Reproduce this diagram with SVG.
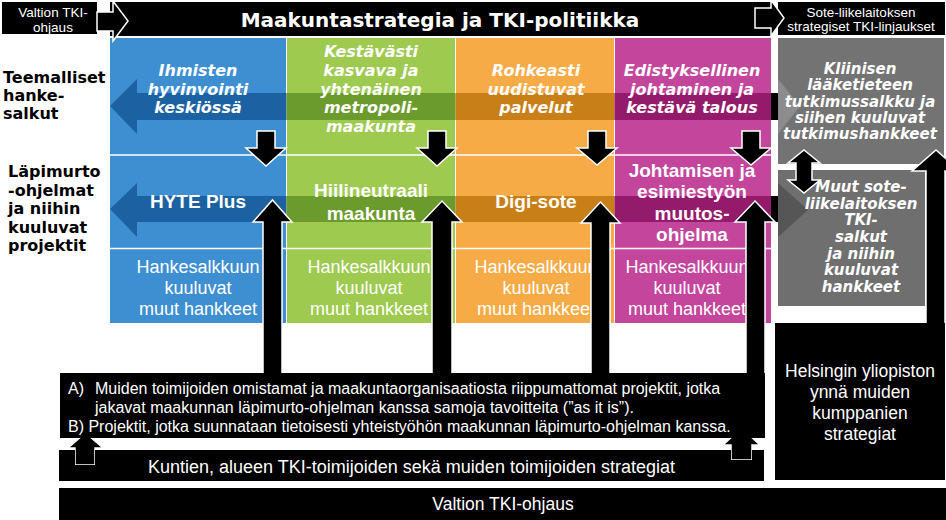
<svg xmlns="http://www.w3.org/2000/svg" width="946" height="520" viewBox="0 0 946 520">
<style>
.v { font-family: "DejaVu Sans", Verdana, sans-serif; font-weight: bold; }
.vi { font-family: "DejaVu Sans", Verdana, sans-serif; font-weight: bold; font-style: italic; fill: #fff; text-anchor: middle; }
.a { font-family: "Liberation Sans", Arial, sans-serif; fill: #fff; }
.ab { font-family: "Liberation Sans", Arial, sans-serif; font-weight: bold; fill: #fff; text-anchor: middle; font-size: 19px; }
.mid { text-anchor: middle; }
.arw { fill: #000; stroke: #fff; stroke-width: 1.5; stroke-linejoin: miter; }
.blk { fill: #000; }
.sep { stroke: #fff; stroke-width: 1.5; }
</style>
<rect width="946" height="520" fill="#fff"/>

<g id="columns">
  <rect x="110" y="38" width="176" height="285" fill="#3d8fd1"/>
  <rect x="287" y="38" width="168" height="285" fill="#9dca4f"/>
  <rect x="456" y="38" width="158" height="285" fill="#f6ab46"/>
  <rect x="615" y="38" width="156" height="285" fill="#c4469c"/>
  <rect x="778" y="38" width="166" height="126" fill="#737373"/>
  <rect x="778" y="170" width="147" height="136" fill="#6f6f6f"/>
</g>

<g id="bands">
  <polygon points="110,106 137,79 137,93 286.5,93 286.5,120 137,120 137,134" fill="#1c62a2"/>
  <rect x="286.5" y="93" width="169" height="27" fill="#6b9b2c"/>
  <rect x="455.5" y="93" width="159" height="27" fill="#c97f18"/>
  <rect x="614.5" y="93" width="156.5" height="27" fill="#941a6b"/>
  <rect x="771" y="93" width="7" height="27" fill="#000"/>
  <polygon points="778,79 800,106 778,134" fill="#8c8c8c"/>
  <polygon points="110,209 137,183 137,196 286.5,196 286.5,222 137,222 137,237" fill="#1c62a2"/>
  <rect x="286.5" y="196" width="169" height="26" fill="#6b9b2c"/>
  <rect x="455.5" y="196" width="159" height="26" fill="#c97f18"/>
  <rect x="614.5" y="196" width="156.5" height="26" fill="#941a6b"/>
  <rect x="771" y="196" width="7" height="26" fill="#000"/>
  <polygon points="778,183 808,210 778,237" fill="#565656"/>
  <line class="sep" x1="110" y1="155" x2="771" y2="155"/>
  <line class="sep" x1="110" y1="248.5" x2="771" y2="248.5"/>
</g>

<g id="top-bar">
  <rect x="110" y="2" width="661" height="34" class="blk"/>
  <text x="440" y="27" class="v mid" font-size="20" fill="#fff">Maakuntastrategia ja TKI-politiikka</text>
</g>
<g id="valtion-top">
  <rect x="2" y="2" width="95" height="32" class="blk"/>
  <text class="a mid" font-size="13.5"><tspan x="53" y="17">Valtion TKI-</tspan><tspan x="53" y="31.5">ohjaus</tspan></text>
</g>
<g id="sote-top">
  <rect x="778" y="2" width="167" height="33" class="blk"/>
  <text class="a mid" font-size="13.5"><tspan x="861" y="16.5">Sote-liikelaitoksen</tspan><tspan x="861" y="31">strategiset TKI-linjaukset</tspan></text>
</g>

<g id="row-labels">
  <text class="v" font-size="16" fill="#000"><tspan x="3" y="83">Teemalliset</tspan><tspan x="3" y="101">hanke-</tspan><tspan x="3" y="119">salkut</tspan></text>
  <text class="v" font-size="16" fill="#000"><tspan x="8" y="177">Läpimurto</tspan><tspan x="8" y="195.5">-ohjelmat</tspan><tspan x="8" y="214">ja niihin</tspan><tspan x="8" y="232.5">kuuluvat</tspan><tspan x="8" y="251">projektit</tspan></text>
</g>

<g id="theme-blue">
  <text class="vi" font-size="16"><tspan x="198" y="76">Ihmisten</tspan><tspan x="198" y="94.5">hyvinvointi</tspan><tspan x="198" y="113">keskiössä</tspan></text>
</g>
<g id="theme-green">
  <text class="vi" font-size="16"><tspan x="371" y="57">Kestävästi</tspan><tspan x="371" y="76">kasvava ja</tspan><tspan x="371" y="94.5">yhtenäinen</tspan><tspan x="371" y="113">metropoli-</tspan><tspan x="371" y="132">maakunta</tspan></text>
</g>
<g id="theme-orange">
  <text class="vi" font-size="16"><tspan x="536" y="76">Rohkeasti</tspan><tspan x="536" y="94.5">uudistuvat</tspan><tspan x="536" y="113">palvelut</tspan></text>
</g>
<g id="theme-magenta">
  <text class="vi" font-size="16"><tspan x="692" y="76">Edistyksellinen</tspan><tspan x="692" y="94.5">johtaminen ja</tspan><tspan x="692" y="113">kestävä talous</tspan></text>
</g>
<g id="theme-clinical">
  <text class="vi" font-size="15"><tspan x="860" y="74">Kliinisen</tspan><tspan x="860" y="90.3">lääketieteen</tspan><tspan x="860" y="106.6">tutkimussalkku ja</tspan><tspan x="860" y="123">siihen kuuluvat</tspan><tspan x="860" y="139.3">tutkimushankkeet</tspan></text>
</g>
<g id="other-sote">
  <text class="vi" font-size="15"><tspan x="861" y="192">Muut sote-</tspan><tspan x="861" y="208.7">liikelaitoksen</tspan><tspan x="861" y="225.3">TKI-</tspan><tspan x="861" y="242">salkut</tspan><tspan x="861" y="258.7">ja niihin</tspan><tspan x="861" y="275.3">kuuluvat</tspan><tspan x="861" y="292">hankkeet</tspan></text>
</g>

<g id="prog-hyte"><text class="ab" x="198" y="208">HYTE Plus</text></g>
<g id="prog-hiili"><text class="ab"><tspan x="371" y="197">Hiilineutraali</tspan><tspan x="371" y="220">maakunta</tspan></text></g>
<g id="prog-digi"><text class="ab" x="536" y="208">Digi-sote</text></g>
<g id="prog-johto"><text class="ab"><tspan x="692" y="177">Johtamisen ja</tspan><tspan x="692" y="198.3">esimiestyön</tspan><tspan x="692" y="219.6">muutos-</tspan><tspan x="692" y="241">ohjelma</tspan></text></g>

<g id="other-projects">
  <text class="a mid" font-size="18"><tspan x="198" y="273">Hankesalkkuun</tspan><tspan x="198" y="294">kuuluvat</tspan><tspan x="198" y="315">muut hankkeet</tspan></text>
  <text class="a mid" font-size="18"><tspan x="369" y="273">Hankesalkkuun</tspan><tspan x="369" y="294">kuuluvat</tspan><tspan x="369" y="315">muut hankkeet</tspan></text>
  <text class="a mid" font-size="18"><tspan x="536" y="273">Hankesalkkuun</tspan><tspan x="536" y="294">kuuluvat</tspan><tspan x="536" y="315">muut hankkeet</tspan></text>
  <text class="a mid" font-size="18"><tspan x="687" y="273">Hankesalkkuun</tspan><tspan x="687" y="294">kuuluvat</tspan><tspan x="687" y="315">muut hankkeet</tspan></text>
</g>

<g id="connectors">
  <path class="arw" d="M97,12 L113,12 L113,1 L128,21 L113,41 L113,31 L97,31 Z"/>
  <path class="arw" d="M755,8 L771,8 L771,0 L784,18 L771,36 L771,28 L755,28 Z"/>
  <path class="arw" d="M266,166 L246,148 L257,148 L257,131 L275,131 L275,148 L286,148 Z"/>
  <path class="arw" d="M437,166 L417,148 L428,148 L428,131 L446,131 L446,148 L457,148 Z"/>
  <path class="arw" d="M597,165 L577,148 L588,148 L588,131 L606,131 L606,148 L617,148 Z"/>
  <path class="arw" d="M751,165 L731,148 L742,148 L742,131 L760,131 L760,148 L771,148 Z"/>
  <path class="arw" d="M272.5,200 L292,222 L282,222 L282,380 L263,380 L263,222 L253,222 Z"/>
  <path class="arw" d="M442,201 L462,222 L452,222 L452,380 L432,380 L432,222 L422,222 Z"/>
  <path class="arw" d="M600.5,202 L620,223 L610,223 L610,380 L591,380 L591,223 L581,223 Z"/>
  <path class="arw" d="M755,201 L775,222 L765,222 L765,380 L746,380 L746,222 L735,222 Z"/>
  <path class="arw" d="M804,150 L820,163 L812,163 L812,180 L820,180 L804,193 L788,180 L796,180 L796,163 L788,163 Z"/>
  <path class="arw" d="M936,150 L960,171 L945,171 L945,330 L926,330 L926,171 L912,171 Z"/>
  <path class="arw" d="M85.5,433 L103,448 L95,448 L95,465 L75,465 L75,448 L68,448 Z"/>
  <path class="arw" d="M741.5,428 L760,445 L752,445 L752,460 L731,460 L731,445 L723,445 Z"/>
</g>

<g id="ab-box">
  <path class="blk" d="M60,373 L60,438 L84,438 L85.5,436 L87,438 L739,438 L741.5,436 L744,438 L765,438 L765,373 Z"/>
  <text class="a" font-size="16"><tspan x="68" y="394">A)</tspan><tspan x="95" y="394">Muiden toimijoiden omistamat ja maakuntaorganisaatiosta riippumattomat projektit, jotka</tspan><tspan x="95" y="413">jakavat maakunnan läpimurto-ohjelman kanssa samoja tavoitteita (”as it is”).</tspan><tspan x="68" y="432">B) Projektit, jotka suunnataan tietoisesti yhteistyöhön maakunnan läpimurto-ohjelman kanssa.</tspan></text>
</g>

<g id="kuntien">
  <path class="blk" d="M59,450 L75,450 L75,465 L95,465 L95,450 L731,450 L731,460 L752,460 L752,450 L764,450 L764,481 L59,481 Z"/>
  <text class="a mid" font-size="18" x="411.5" y="473">Kuntien, alueen TKI-toimijoiden sekä muiden toimijoiden strategiat</text>
</g>

<g id="helsinki">
  <rect x="775" y="323" width="170" height="157" class="blk"/>
  <text class="a mid" font-size="17.5"><tspan x="860" y="377">Helsingin yliopiston</tspan><tspan x="860" y="398">ynnä muiden</tspan><tspan x="860" y="419">kumppanien</tspan><tspan x="860" y="440">strategiat</tspan></text>
</g>

<g id="valtion-bottom">
  <rect x="59" y="488" width="887" height="32" class="blk"/>
  <text class="a mid" font-size="17.5" x="503" y="510">Valtion TKI-ohjaus</text>
</g>
</svg>
